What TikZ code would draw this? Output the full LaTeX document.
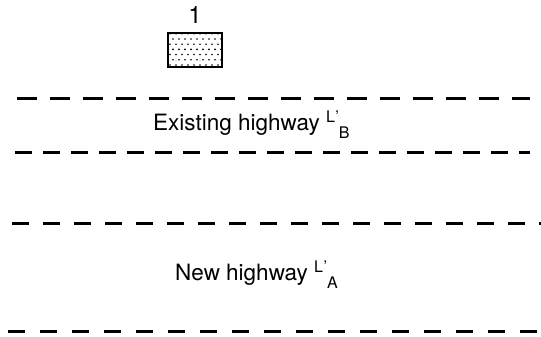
\documentclass[tikz,border=0pt]{standalone}
\usepackage{fontspec}
\setmainfont{TeX Gyre Heros}
\tikzset{
  road/.style={line width=3pt},
  lbl/.style={inner sep=0pt, anchor=base west, font=\fontsize{22.5}{22.5}\selectfont},
  lot/.style={draw, line width=2.4pt, minimum width=54pt, minimum height=34pt, inner sep=0pt}
}
\newcommand{\hwsub}[1]{\raisebox{8pt}{\fontsize{16}{16}\selectfont L\kern0.5pt’}\raisebox{-8pt}{\fontsize{16}{16}\selectfont #1}}
\begin{document}
\begin{tikzpicture}[x=1pt,y=1pt]
\useasboundingbox (0,0) rectangle (541,337);
% lot 1
\node[lot] (box) at (195,287) {};
\begin{scope}
  \clip (box.south west) rectangle (box.north east);
  \foreach \j in {0,...,6} {
    \foreach \i in {0,...,9} {
      \pgfmathsetmacro{\xx}{170 + \i*6 + mod(\j,2)*3}
      \pgfmathsetmacro{\yy}{272 + \j*5.2}
      \fill (\xx,\yy) circle (0.9pt);
    }
  }
\end{scope}
\node[lot] at (box) {};
\node[font=\fontsize{24}{24}\selectfont, inner sep=0pt] (one) at (195,322) {1};
% road lines
\coordinate (a1) at (17,238);  \coordinate (a2) at (530,238);
\coordinate (b1) at (15,184);  \coordinate (b2) at (530,184);
\coordinate (c1) at (12,113);  \coordinate (c2) at (541,113);
\coordinate (d1) at (8,5);     \coordinate (d2) at (541,5);
\draw[road, dash pattern=on 20pt off 13pt] (a1) -- (a2);
\draw[road, dash pattern=on 17pt off 11pt] (b1) -- (b2);
\draw[road, dash pattern=on 17pt off 14pt] (c1) -- (c2);
\draw[road, dash pattern=on 17pt off 15pt] (d1) -- (d2);
% labels
\node[lbl] (ex) at (153,206) {Existing highway \hwsub{B}};
\node[lbl] (nw) at (175,56) {New highway \hwsub{A}};
\end{tikzpicture}
\end{document}
